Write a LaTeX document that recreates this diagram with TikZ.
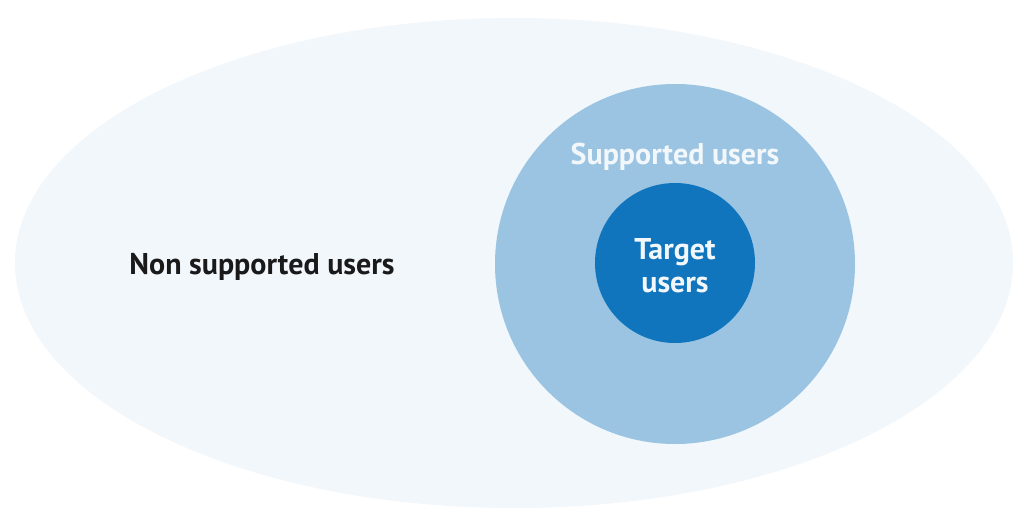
\documentclass[tikz,border=0pt]{standalone}
\usepackage{fontspec}
\setmainfont{PT Sans}
\usetikzlibrary{positioning,shapes.geometric}
\definecolor{outerfill}{HTML}{F2F7FB}
\definecolor{midfill}{HTML}{9AC4E2}
\definecolor{innerfill}{HTML}{1075BD}
\definecolor{labeldark}{HTML}{1A1A1A}
\definecolor{labellight}{HTML}{F2F7FB}
\tikzset{
  usersring/.style={circle,draw=none,inner sep=0pt},
  userslabel/.style={font=\bfseries\fontsize{30}{33}\selectfont,align=center},
}
\begin{document}
\begin{tikzpicture}[x=1pt,y=-1pt]
  \useasboundingbox (0,0) rectangle (1030,530);
  \fill[white] (0,0) rectangle (1030,530);
  % outer set
  \node[ellipse,fill=outerfill,minimum width=998pt,minimum height=490pt,inner sep=0pt] (nonsupported) at (514,263) {};
  % supported and target
  \node[usersring,fill=midfill,minimum size=360pt] (supported) at (675,264) {};
  \node[usersring,fill=innerfill,minimum size=160pt] (target) at (675,263) {};
  \node[userslabel,text=labeldark] (nonlabel) at (262,267) {Non supported users};
  \node[userslabel,text=labellight] (suplabel) at (675,157) {Supported users};
  \node[userslabel,text=labellight] (targetlabel) at (675,266) {Target\\users};
\end{tikzpicture}
\end{document}
